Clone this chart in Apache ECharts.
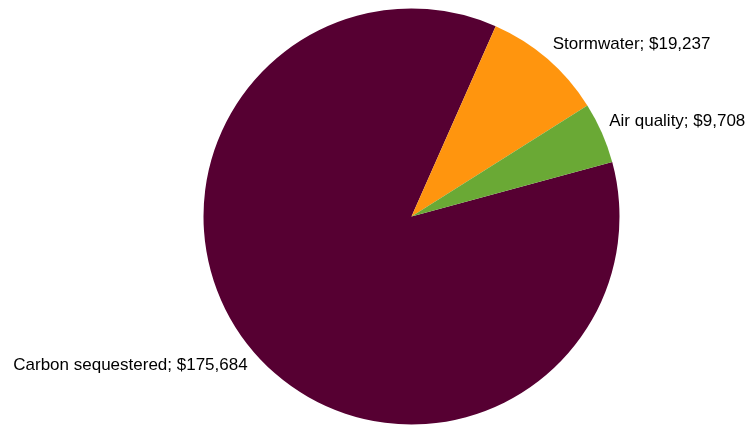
<!DOCTYPE html>
<html><head><meta charset="utf-8">
<script src="https://cdn.jsdelivr.net/npm/echarts@6/dist/echarts.min.js"></script>
<style>html,body{margin:0;padding:0;background:#fff}#c{width:750px;height:425px}</style>
</head><body><div id="c"></div>
<script>
const categories = ['Carbon sequestered', 'Stormwater', 'Air quality'];
const values = [175684, 19237, 9708];
const colors = ['#560032', '#ff950e', '#6aa935'];

const CX = 411.5, CY = 216.5, R = 208, START = 15.2, GAP = 8;
const total = values.reduce((a, b) => a + b, 0);
function midAngle(i) {
  let before = 0;
  for (let k = 0; k < i; k++) before += values[k];
  const frac = (before + values[i] / 2) / total;
  return (START - frac * 360) * Math.PI / 180; // clockwise
}
const chart = echarts.init(document.getElementById('c'), null, {renderer: 'canvas'});
chart.setOption({
  animation: false,
  backgroundColor: '#ffffff',
  series: [{
    type: 'pie',
    center: [CX, CY],
    radius: R,
    startAngle: START,
    clockwise: true,
    avoidLabelOverlap: false,
    data: categories.map((c, i) => ({name: c, value: values[i], itemStyle: {color: colors[i]}})),
    label: {
      show: true,
      position: 'outside',
      formatter: p => p.name + '; $' + p.value.toLocaleString('en-US'),
      fontFamily: 'Liberation Sans, Arial, sans-serif',
      fontSize: 17,
      color: '#000000'
    },
    labelLine: {show: false},
    labelLayout: function (params) {
      const a = midAngle(params.dataIndex);
      const dx = Math.cos(a), dy = -Math.sin(a);
      return {
        x: CX + (R + GAP) * dx,
        y: CY + (R + GAP) * dy,
        align: dx >= 0 ? 'left' : 'right',
        verticalAlign: dy <= 0 ? 'bottom' : 'top'
      };
    },
    emphasis: {disabled: true},
    itemStyle: {borderWidth: 0}
  }]
});
</script></body></html>
